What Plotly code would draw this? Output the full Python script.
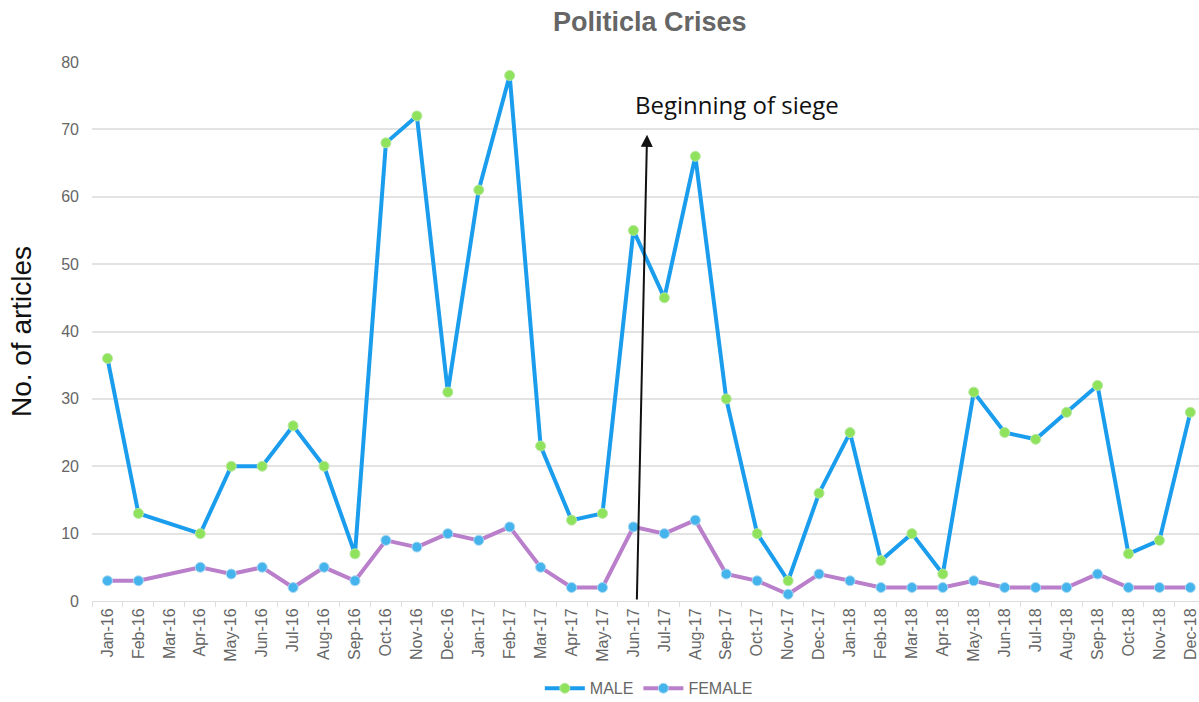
import plotly.graph_objects as go

months = ["Jan-16","Feb-16","Mar-16","Apr-16","May-16","Jun-16","Jul-16","Aug-16","Sep-16","Oct-16","Nov-16","Dec-16",
          "Jan-17","Feb-17","Mar-17","Apr-17","May-17","Jun-17","Jul-17","Aug-17","Sep-17","Oct-17","Nov-17","Dec-17",
          "Jan-18","Feb-18","Mar-18","Apr-18","May-18","Jun-18","Jul-18","Aug-18","Sep-18","Oct-18","Nov-18","Dec-18"]
male = [36, 13, None, 10, 20, 20, 26, 20, 7, 68, 72, 31,
        61, 78, 23, 12, 13, 55, 45, 66, 30, 10, 3, 16,
        25, 6, 10, 4, 31, 25, 24, 28, 32, 7, 9, 28]
female = [3, 3, None, 5, 4, 5, 2, 5, 3, 9, 8, 10,
          9, 11, 5, 2, 2, 11, 10, 12, 4, 3, 1, 4,
          3, 2, 2, 2, 3, 2, 2, 2, 4, 2, 2, 2]
y_ticks = [0, 10, 20, 30, 40, 50, 60, 70, 80]

fig = go.Figure()
fig.add_trace(go.Scatter(
    x=months, y=male, name="MALE", mode="lines+markers", connectgaps=True,
    line=dict(color="#1b9ded", width=4),
    marker=dict(color="#8fe35c", size=10, line=dict(color="#b9e8a0", width=1)),
    cliponaxis=False,
))
fig.add_trace(go.Scatter(
    x=months, y=female, name="FEMALE", mode="lines+markers", connectgaps=True,
    line=dict(color="#b97fcb", width=4),
    marker=dict(color="#45b3ec", size=10, line=dict(color="#a9d9f3", width=1)),
    cliponaxis=False,
))

fig.add_annotation(
    x=17.44, y=69.2, ax=17.11, ay=0, xref="x", yref="y", axref="x", ayref="y",
    showarrow=True, arrowhead=2, arrowsize=1.2, arrowwidth=2, arrowcolor="#111111", text="",
)
fig.add_annotation(
    x=16.98, y=73.7, xref="x", yref="y", text="Beginning of siege", showarrow=False,
    xanchor="left", yanchor="middle",
    font=dict(family="Open Sans, sans-serif", size=24, color="#111111"),
)

fig.update_layout(
    width=1199, height=702,
    paper_bgcolor="white", plot_bgcolor="white",
    margin=dict(l=92, r=0, t=62, b=101, autoexpand=False),
    title=dict(text="<b>Politicla Crises</b>", x=0.542, xanchor="center", y=0.969, yanchor="middle",
               font=dict(family="Liberation Sans, Arial, sans-serif", size=27, color="#666666")),
    font=dict(family="Liberation Sans, Arial, sans-serif", color="#666666"),
    showlegend=True,
    legend=dict(orientation="h", x=0.503, xanchor="center", y=-0.162, yanchor="middle",
                font=dict(size=16, color="#666666"), itemwidth=40),
    xaxis=dict(
        type="category", categoryorder="array", categoryarray=months, automargin=False,
        range=[-0.5, 35.28], tickangle=-90, tickfont=dict(size=16, color="#666666"),
        showgrid=False, showline=True, linecolor="#dddddd", linewidth=1,
        ticks="outside", ticklen=5, tickcolor="#dddddd", tickson="boundaries",
    ),
    yaxis=dict(
        range=[0, 80], tickvals=y_ticks, tickfont=dict(size=16, color="#666666"), automargin=False,
        showgrid=True, gridcolor="#e3e3e3", gridwidth=1.5, zeroline=False,
        title=dict(text="No. of articles", font=dict(size=28, color="#111111"), standoff=21),
        ticks="", ticklabelstandoff=12,
    ),
)

fig.write_html("out.html", config={"displayModeBar": False},
               post_script="document.body.style.margin='0px';")
